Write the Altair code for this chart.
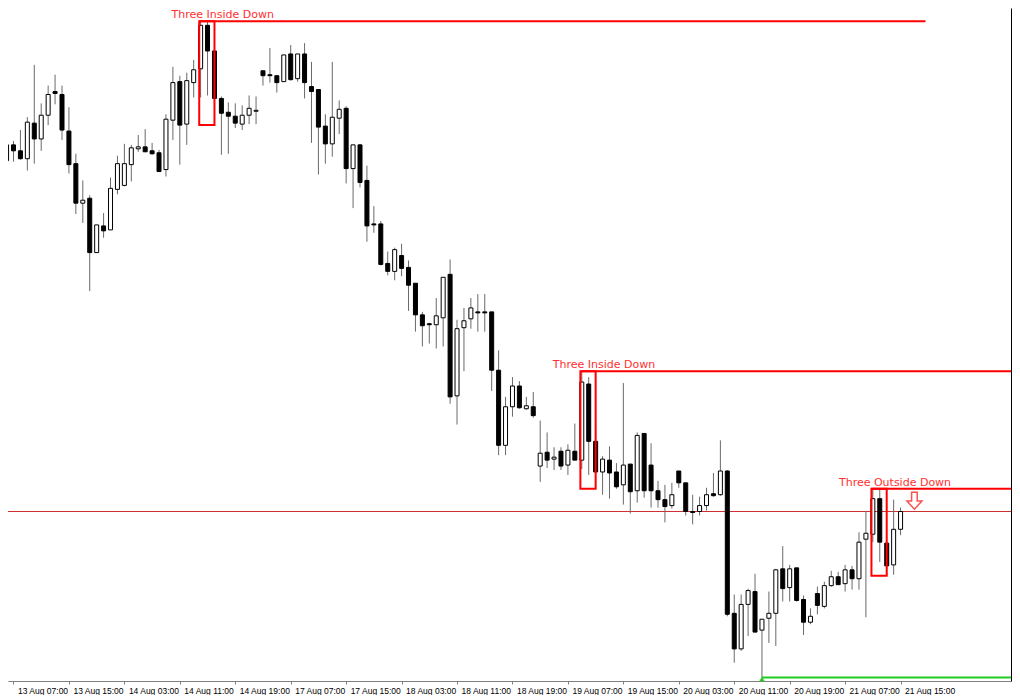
import altair as alt
import pandas as pd

# ---- candle data (price units) ----
opens = [546, 562, 556, 548, 584, 568, 592, 616, 613, 576,
         543, 503, 508, 453, 480, 476, 517, 521, 542, 558,
         560, 556, 554, 537, 587, 626, 583, 625, 639, 683,
         657, 609, 595, 591, 583, 592, 596, 637, 633, 632,
         626, 654, 629, 654, 621, 618, 581, 563, 589, 599,
         538, 562, 526, 482, 482, 442, 434, 450, 438, 422,
         390, 381, 380, 387, 431, 308, 377, 386, 393, 393,
         393, 334, 258, 297, 318, 295, 297, 237, 251, 244,
         252, 238, 252, 243, 320, 262, 231, 243, 231, 218,
         239, 212, 270, 238, 212, 203, 197, 232, 220, 191,
         191, 197, 209, 208, 232, 88, 52, 97, 110, 71,
         83, 88, 133, 114, 134, 102, 79, 108, 95, 116,
         125, 118, 132, 123, 163, 168, 204, 159, 137, 173]
highs = [565, 566, 577, 590, 643, 604, 622, 633, 622, 600,
         553, 526, 511, 481, 493, 529, 551, 563, 562, 572,
         578, 564, 557, 593, 641, 632, 635, 648, 687, 687,
         657, 611, 605, 604, 602, 612, 611, 637, 660, 632,
         653, 663, 654, 665, 646, 618, 593, 646, 607, 601,
         562, 563, 541, 500, 485, 454, 458, 462, 445, 422,
         393, 382, 407, 428, 446, 385, 397, 407, 411, 411,
         393, 354, 307, 327, 323, 307, 312, 283, 271, 256,
         256, 259, 280, 333, 327, 278, 247, 257, 240, 321,
         239, 271, 270, 260, 222, 218, 220, 232, 220, 208,
         206, 215, 230, 263, 233, 107, 107, 113, 128, 82,
         110, 133, 156, 137, 134, 106, 93, 115, 120, 131,
         130, 137, 136, 170, 191, 214, 214, 162, 203, 195]
lows = [542, 545, 547, 536, 543, 556, 582, 603, 567, 533,
        492, 483, 414, 453, 468, 476, 512, 520, 525, 555,
        555, 552, 535, 530, 567, 542, 562, 610, 610, 612,
        582, 552, 553, 579, 577, 583, 583, 622, 625, 615,
        626, 627, 626, 609, 564, 532, 543, 550, 573, 523,
        498, 519, 464, 473, 440, 430, 425, 429, 394, 373,
        358, 361, 356, 358, 300, 279, 333, 376, 373, 373,
        313, 248, 248, 287, 295, 294, 286, 221, 235, 233,
        233, 228, 243, 234, 228, 214, 208, 204, 214, 198,
        189, 200, 205, 195, 195, 180, 194, 215, 187, 178,
        187, 192, 206, 207, 85, 38, 50, 65, 69, 23,
        58, 55, 100, 100, 100, 66, 77, 87, 93, 115,
        117, 110, 112, 112, 84, 160, 140, 126, 127, 167]
closes = [562, 556, 548, 585, 568, 592, 613, 614, 577, 542,
          503, 506, 453, 481, 475, 518, 543, 543, 559, 560,
          555, 553, 535, 588, 625, 582, 627, 638, 683, 657,
          609, 594, 591, 584, 592, 599, 597, 632, 632, 625,
          653, 628, 654, 625, 616, 580, 563, 590, 598, 538,
          562, 524, 480, 481, 441, 434, 456, 437, 420, 390,
          379, 380, 389, 428, 307, 376, 384, 397, 392, 392,
          334, 258, 297, 318, 296, 298, 288, 250, 243, 246,
          237, 253, 243, 322, 262, 231, 244, 230, 216, 238,
          211, 268, 212, 212, 203, 196, 208, 220, 191, 190,
          197, 208, 207, 232, 87, 52, 97, 111, 69, 82,
          88, 132, 113, 133, 101, 79, 85, 96, 116, 125,
          117, 132, 123, 160, 169, 204, 160, 136, 173, 191]

tick_bars = [1, 9, 17, 25, 33, 41, 49, 57, 65, 73, 81, 89, 97, 105, 113, 121, 129]
tick_labels = ["13 Aug 07:00", "13 Aug 15:00", "14 Aug 03:00", "14 Aug 11:00",
               "14 Aug 19:00", "17 Aug 07:00", "17 Aug 15:00", "18 Aug 03:00",
               "18 Aug 11:00", "18 Aug 19:00", "19 Aug 07:00", "19 Aug 15:00",
               "20 Aug 03:00", "20 Aug 11:00", "20 Aug 19:00", "21 Aug 07:00",
               "21 Aug 15:00"]

pattern_names = ["Three Inside Down", "Three Inside Down", "Three Outside Down"]
pattern_first = [28, 83, 125]
pattern_last = [30, 85, 127]
pattern_level_end = [132.6, 146, 146]

signal_bar = [131]
signal_price = [202]

# ---- tables ----
df = pd.DataFrame({"k": list(range(len(opens))), "open": opens, "high": highs,
                   "low": lows, "close": closes})

pat = pd.DataFrame({"name": pattern_names, "first": pattern_first,
                    "last": pattern_last, "level_end": pattern_level_end})
pat["top"] = [max(highs[a:b + 1]) for a, b in zip(pattern_first, pattern_last)]
pat["bottom"] = [min(lows[a:b + 1]) for a, b in zip(pattern_first, pattern_last)]
pat["x0"] = pat["first"] - 0.2
pat["xt"] = pat["last"] + 1.2

bid = pd.DataFrame({"price": [closes[-1]]})
lo_k = int(df["low"].idxmin())
lowline = pd.DataFrame({"k": [lo_k], "price": [lows[lo_k]]})
sig = pd.DataFrame({"k": signal_bar, "price": signal_price})

W, H = 1003, 673
xs = alt.Scale(domain=[0.9286, 144.214], nice=False, zero=False)
ys = alt.Scale(domain=[19.5, 700.5], nice=False, zero=False)

label_expr = "[" + ",".join("'%s'" % s for s in tick_labels) + "][round((datum.value-1)/8)]"
xaxis = alt.Axis(values=tick_bars, labelExpr=label_expr, labelAlign="left",
                 labelOffset=4, labelFlush=False, labelOverlap=False,
                 labelFont="Liberation Sans", labelFontSize=8.5, labelColor="#000000",
                 labelPadding=2, tickSize=3, tickColor="#808080",
                 domainColor="#808080", grid=False, title=None)
yaxis = alt.Axis(orient="right", labels=False, ticks=False, domain=True,
                 domainColor="#000000", grid=False, title=None)

base = alt.Chart(df)
wicks = base.mark_rule(color="#6a6a6a", strokeWidth=1, clip=True).encode(
    x=alt.X("k:Q", scale=xs, axis=xaxis),
    y=alt.Y("low:Q", scale=ys, axis=yaxis),
    y2="high:Q",
)
bodies = base.mark_bar(width=4, stroke="#000000", strokeWidth=1, clip=True).encode(
    x=alt.X("k:Q", scale=xs),
    y=alt.Y("open:Q", scale=ys),
    y2="close:Q",
    fill=alt.condition("datum.close >= datum.open", alt.value("#ffffff"), alt.value("#000000")),
)

bid_line = alt.Chart(bid).mark_rule(color="#d03030", strokeWidth=1).encode(
    y=alt.Y("price:Q", scale=ys, axis=yaxis))

low_line = alt.Chart(lowline).mark_rule(color="#22cc22", strokeWidth=2, clip=True).encode(
    x=alt.X("k:Q", scale=xs), x2=alt.value(W), y=alt.Y("price:Q", scale=ys))

low_mark = alt.Chart(lowline).mark_point(shape="triangle-up", size=30, filled=True,
                                         color="#22cc22", opacity=1).encode(
    x=alt.X("k:Q", scale=xs), y=alt.value(H - 2))

boxes = alt.Chart(pat).mark_rect(fillOpacity=0, stroke="#ff0000", strokeWidth=2, clip=True).encode(
    x=alt.X("x0:Q", scale=xs), x2="last:Q",
    y=alt.Y("top:Q", scale=ys), y2="bottom:Q")

levels = alt.Chart(pat).mark_rule(color="#ff0000", strokeWidth=2, clip=True).encode(
    x=alt.X("x0:Q", scale=xs), x2="level_end:Q", y=alt.Y("top:Q", scale=ys))

labels = alt.Chart(pat).mark_text(align="center", baseline="alphabetic", dy=-3,
                                  font="DejaVu Sans", fontSize=11, color="#ff3030").encode(
    x=alt.X("xt:Q", scale=xs), y=alt.Y("top:Q", scale=ys), text="name:N")

arrow_path = "M -0.33 -1 L 0.33 -1 L 0.33 0.05 L 0.88 0.05 L 0 1 L -0.88 0.05 L -0.33 0.05 Z"
arrow = alt.Chart(sig).mark_point(shape=arrow_path, size=289, filled=True, fill="#ffffff",
                                  stroke="#ff5050", strokeWidth=1.5, opacity=1).encode(
    x=alt.X("k:Q", scale=xs), y=alt.Y("price:Q", scale=ys))

chart = alt.layer(bid_line, low_line, wicks, bodies, boxes, levels, labels, arrow, low_mark).properties(
    width=W, height=H,
    padding={"left": 0, "top": 0, "right": 1, "bottom": 14},
    autosize=alt.AutoSizeParams(type="none"),
    background="#ffffff",
).configure_view(strokeWidth=0)

chart.save("out.html", embed_options={"renderer": "svg", "actions": False})
